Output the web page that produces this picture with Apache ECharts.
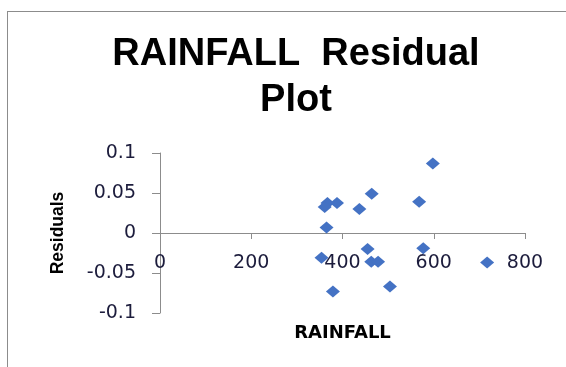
<!DOCTYPE html>
<html>
<head>
<meta charset="utf-8">
<script src="https://cdn.jsdelivr.net/npm/echarts@6/dist/echarts.min.js"></script>
<style>
  html, body { margin: 0; padding: 0; background: #fff; }
  #wrap { position: relative; width: 566px; height: 367px; overflow: hidden; }
  #chart { position: absolute; left: 0; top: 0; width: 566px; height: 367px; }
  #frame { position: absolute; left: 7px; top: 11px; right: -2px; bottom: -2px;
    border-left: 1px solid #8c8c8c; border-top: 1px solid #8c8c8c; pointer-events: none; }
</style>
</head>
<body>
<div id="wrap">
  <div id="chart"></div>
  <div id="frame"></div>
</div>
<script>
// 降雨量 / 残差
const rainfall = [598, 464, 568, 388, 367, 361, 437, 365, 455, 577, 354, 463, 478, 717, 504, 379];
const residuals = [0.087, 0.049, 0.039, 0.0375, 0.0375, 0.0325, 0.030, 0.007, -0.020, -0.019, -0.031, -0.036, -0.036, -0.037, -0.067, -0.073];
const xTicks = [0, 200, 400, 600, 800];
const yTicks = [-0.1, -0.05, 0, 0.05, 0.1];

const points = rainfall.map((v, i) => [v, residuals[i]]);

const labelColor = '#1c1c3c';
const axisColor = '#8c8c8c';
const gridHeight = 160;

const myChart = echarts.init(document.getElementById('chart'));
myChart.setOption({
  animation: false,
  title: {
    text: 'RAINFALL  Residual\nPlot',
    left: 291,
    top: 27,
    textAlign: 'center',
    textStyle: {
      fontFamily: 'Liberation Sans',
      fontWeight: 'bold',
      fontSize: 38,
      lineHeight: 46,
      color: '#000',
    },
  },
  grid: { left: 160, right: 41, top: 153, height: gridHeight, outerBoundsMode: 'none', containLabel: false },
  xAxis: {
    type: 'value',
    min: xTicks[0],
    max: xTicks[xTicks.length - 1],
    interval: 200,
    // x 轴放在 y=0 处（网格中线）
    offset: -gridHeight / 2,
    name: 'RAINFALL',
    nameLocation: 'middle',
    nameGap: 91,
    nameTextStyle: { fontFamily: 'DejaVu Sans', fontWeight: 'bold', fontSize: 18, color: '#000' },
    axisLine: { onZero: false, lineStyle: { color: axisColor, width: 1 } },
    axisTick: { show: true, length: 6, lineStyle: { color: axisColor } },
    axisLabel: { margin: 21, fontFamily: 'DejaVu Sans', fontSize: 19, color: labelColor },
    splitLine: { show: false },
  },
  yAxis: {
    type: 'value',
    min: yTicks[0],
    max: yTicks[yTicks.length - 1],
    interval: 0.05,
    name: 'Residuals',
    nameLocation: 'middle',
    nameGap: 93,
    nameRotate: 90,
    nameTextStyle: { fontFamily: 'Liberation Sans', fontWeight: 'bold', fontSize: 17.5, color: '#000' },
    axisLine: { show: true, onZero: false, lineStyle: { color: axisColor, width: 1 } },
    axisTick: { show: true, length: 8, lineStyle: { color: axisColor } },
    axisLabel: { margin: 24, fontFamily: 'DejaVu Sans', fontSize: 19, color: labelColor },
    splitLine: { show: false },
  },
  series: [
    {
      type: 'scatter',
      symbol: 'diamond',
      symbolSize: [14, 12],
      itemStyle: { color: '#4472c4', opacity: 1 },
      data: points,
    },
  ],
});
</script>
</body>
</html>
